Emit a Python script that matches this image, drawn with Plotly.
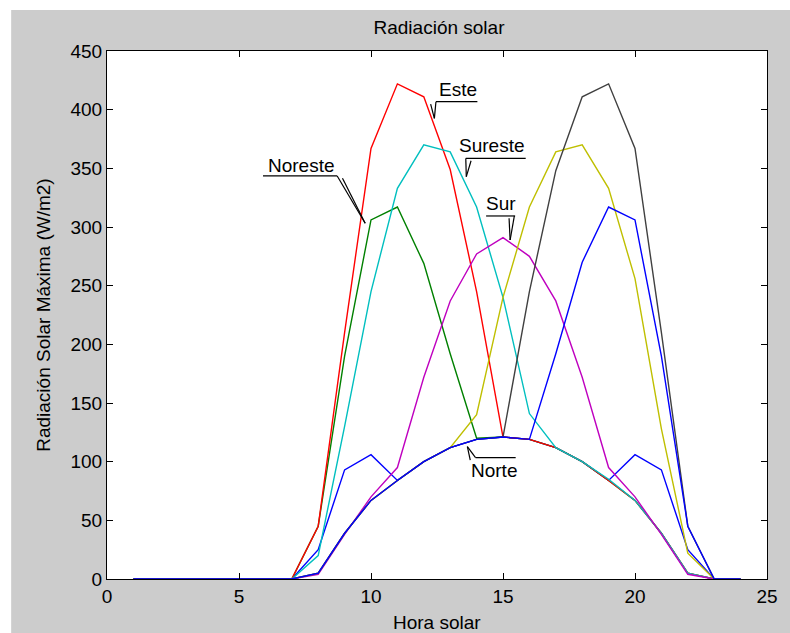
import plotly.graph_objects as go

hours = list(range(1, 25))

norte    = [0]*7 + [25, 93, 106, 84, 100, 112, 119, 121, 119, 112, 100, 84, 106, 93, 25, 0, 0]
noreste  = [0]*7 + [45, 190, 306, 317, 269, 192, 120, 121, 119, 112, 100, 84, 67, 39, 5, 0, 0]
este     = [0]*7 + [45, 210, 367, 422, 411, 349, 245, 121, 119, 112, 100, 84, 67, 39, 5, 0, 0]
sureste  = [0]*7 + [20, 130, 245, 333, 370, 364, 317, 240, 141, 112, 100, 85, 67, 39, 5, 0, 0]
sur      = [0]*7 + [4, 38, 70, 95, 172, 237, 277, 291, 275, 237, 172, 95, 70, 38, 4, 0, 0]
suroeste = [0]*7 + [5, 39, 67, 84, 100, 112, 140, 240, 317, 364, 370, 333, 256, 128, 22, 0, 0]
oeste    = [0]*7 + [5, 39, 67, 84, 100, 112, 119, 121, 245, 348, 411, 422, 367, 210, 45, 0, 0]
noroeste = [0]*7 + [5, 39, 67, 84, 100, 112, 119, 121, 119, 192, 270, 317, 306, 190, 45, 0, 0]

series = [
    ("Norte", norte, "#0000ff"),
    ("Noreste", noreste, "#008000"),
    ("Este", este, "#ff0000"),
    ("Sureste", sureste, "#00bfbf"),
    ("Sur", sur, "#bf00bf"),
    ("Suroeste", suroeste, "#bfbf00"),
    ("Oeste", oeste, "#404040"),
    ("Noroeste", noroeste, "#0000ff"),
]

x_ticks = [0, 5, 10, 15, 20, 25]
y_ticks = list(range(0, 451, 50))

FONT = "Liberation Sans, Arial, sans-serif"
FS = 19

fig = go.Figure()
for name, vals, col in series:
    fig.add_trace(go.Scatter(x=hours, y=vals, mode="lines", name=name,
                             line=dict(color=col, width=1.4), showlegend=False))

# label annotations: (text, text_x, text_y, underline x0, x1, y, pointer base x, tip x, tip y)
labels = [
    ("Este", 13.29, 416.8, 12.46, 14.03, 406.8, 12.46, 12.40, 392.6),
    ("Sureste", 14.57, 369.2, 13.59, 15.86, 358.5, 13.59, 13.61, 342.9),
    ("Sur", 14.93, 319.8, 14.36, 15.46, 309.4, 15.43, 15.27, 288.9),
    ("Noreste", 7.37, 352.8, 5.91, 8.72, 343.5, 8.72, 9.78, 303.2),
    ("Norte", 14.64, 92.2, 13.96, 15.48, 103.4, 13.96, 13.65, 112.8),
]

shapes = []
annotations = []
for txt, tx, ty, ux0, ux1, uy, bx, px, py in labels:
    annotations.append(dict(x=tx, y=ty, xref="x", yref="y", text=txt, showarrow=False,
                            font=dict(family=FONT, size=FS, color="black"),
                            xanchor="center", yanchor="middle"))
    shapes.append(dict(type="line", xref="x", yref="y", x0=ux0, x1=ux1, y0=uy, y1=uy,
                       line=dict(color="black", width=1.2)))
    shapes.append(dict(type="line", xref="x", yref="y", x0=bx, x1=px, y0=uy, y1=py,
                       line=dict(color="black", width=1.2)))
    shapes.append(dict(type="line", xref="x", yref="y", x0=bx + 0.2 * (1 if px >= bx else -1), x1=px,
                       y0=uy - 2, y1=py, line=dict(color="black", width=1.2)))

# white strips at top and left (figure frame)
shapes.append(dict(type="rect", xref="paper", yref="paper", x0=-0.2, x1=-0.1452, y0=-0.2, y1=1.2,
                   fillcolor="white", line=dict(width=0), layer="below"))
shapes.append(dict(type="rect", xref="paper", yref="paper", x0=-0.2, x1=1.1, y0=1.0777, y1=1.2,
                   fillcolor="white", line=dict(width=0), layer="below"))

annotations.append(dict(x=0.5, y=(579 - 622) / 528, xref="paper", yref="paper", text="Hora solar",
                        showarrow=False, font=dict(family=FONT, size=FS, color="black"),
                        xanchor="center", yanchor="middle"))
annotations.append(dict(x=(42 - 107) / 668, y=0.5, xref="paper", yref="paper",
                        text="Radiación Solar Máxima (W/m2)", textangle=-90,
                        showarrow=False, font=dict(family=FONT, size=FS, color="black"),
                        xanchor="center", yanchor="middle"))

axis_common = dict(showline=True, linecolor="black", linewidth=1, mirror="ticks",
                   ticks="inside", ticklen=6, tickcolor="black", showgrid=False,
                   zeroline=False, tickfont=dict(family=FONT, size=FS, color="black"))

fig.update_layout(
    width=790, height=633,
    margin=dict(l=107, r=15, t=51, b=54),
    paper_bgcolor="#cccccc", plot_bgcolor="white",
    title=dict(text="Radiación solar", x=439 / 790, xanchor="center", y=1 - 27 / 633,
               yanchor="middle", font=dict(family=FONT, size=FS, color="black")),
    xaxis=dict(range=[0, 25], tickvals=x_ticks, ticktext=[str(v) for v in x_ticks], **axis_common),
    yaxis=dict(range=[0, 450], tickvals=y_ticks, ticktext=[str(v) for v in y_ticks], **axis_common),
    shapes=shapes, annotations=annotations,
)

fig.write_html("out.html")
